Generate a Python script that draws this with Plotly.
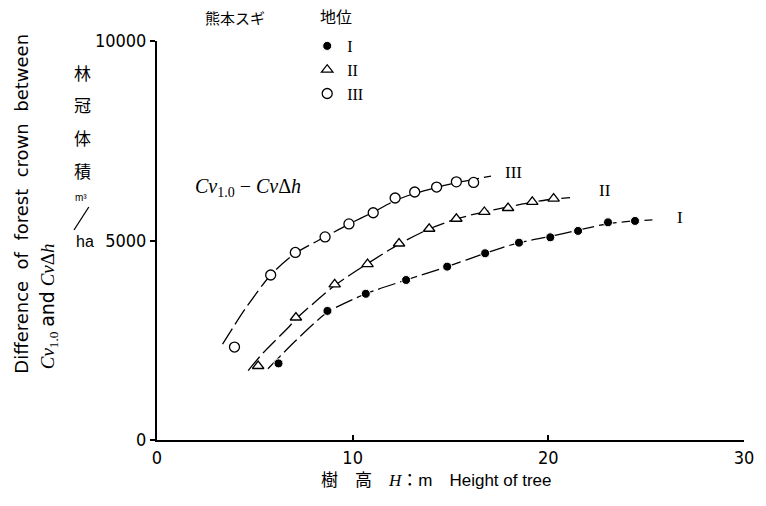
import plotly.graph_objects as go

# ---------------- data ----------------
# site class I (filled circles)
h_I = [6.21, 8.71, 10.67, 12.73, 14.83, 16.77, 18.50, 20.10, 21.52, 23.05, 24.43]
v_I = [1920, 3235, 3665, 4010, 4345, 4680, 4945, 5080, 5240, 5455, 5490]
# site class II (open triangles)
h_II = [5.17, 7.10, 9.08, 10.76, 12.37, 13.91, 15.30, 16.73, 17.94, 19.18, 20.27]
v_II = [1855, 3070, 3900, 4410, 4925, 5295, 5545, 5715, 5815, 5970, 6050]
# site class III (open circles)
h_III = [3.96, 5.81, 7.07, 8.59, 9.81, 11.05, 12.17, 13.17, 14.29, 15.30, 16.18]
v_III = [2330, 4135, 4700, 5090, 5415, 5695, 6065, 6215, 6340, 6470, 6455]

# fitted curves as drawn in the reference
ch_I = [5.67, 7.07, 8.71, 10.67, 12.73, 14.83, 16.77, 18.50, 20.10, 21.52, 23.05, 24.43, 25.32]
cv_I = [1785, 2480, 3200, 3665, 4010, 4345, 4680, 4945, 5100, 5260, 5420, 5490, 5515]
ch_II = [4.66, 5.37, 6.75, 7.10, 9.08, 10.76, 12.37, 13.91, 15.30, 16.73, 17.94, 19.18, 20.27, 21.11]
cv_II = [1740, 2155, 2840, 3030, 3870, 4420, 4910, 5290, 5540, 5720, 5840, 5960, 6040, 6075]
ch_III = [3.35, 4.5, 5.81, 7.07, 8.59, 9.81, 11.05, 12.17, 13.17, 14.29, 15.30, 16.18, 17.07]
cv_III = [2405, 3280, 4135, 4680, 5090, 5410, 5710, 6000, 6180, 6330, 6450, 6530, 6615]

class_names = ["I", "II", "III"]
x_ticks = [0, 10, 20, 30]
y_ticks = [0, 5000, 10000]

# ---------------- layout geometry ----------------
W, H = 766, 506
L, R, T, B = 157, 15, 41, 66
PW, PH = W - L - R, H - T - B


def px(x):
    return (x - L) / PW


def py(y):
    return (H - B - y) / PH


NARROW = "DejaVu Sans Condensed, Liberation Sans Narrow, Liberation Sans, sans-serif"
SANS = "Liberation Sans, Arial, sans-serif"
SERIF = "Liberation Serif, DejaVu Serif, serif"
JP = "Noto Sans CJK JP, Noto Sans CJK SC, sans-serif"

fig = go.Figure()

line_style = dict(color="black", width=1.3, dash="18px,5px", shape="spline", smoothing=0.7)
for cx, cy in [(ch_I, cv_I), (ch_II, cv_II), (ch_III, cv_III)]:
    fig.add_trace(go.Scatter(x=cx, y=cy, mode="lines", line=line_style,
                             showlegend=False, hoverinfo="skip"))

fig.add_trace(go.Scatter(x=h_I, y=v_I, mode="markers", name=class_names[0],
                         marker=dict(symbol="circle", size=9, color="black",
                                     line=dict(color="white", width=1))))
fig.add_trace(go.Scatter(x=h_II, y=v_II, mode="markers", name=class_names[1],
                         marker=dict(symbol="triangle-up", size=10, color="white",
                                     line=dict(color="black", width=1.3))))
fig.add_trace(go.Scatter(x=h_III, y=v_III, mode="markers", name=class_names[2],
                         marker=dict(symbol="circle", size=10, color="white",
                                     line=dict(color="black", width=1.3))))

ann = []
# top labels
ann.append(dict(text="熊本スギ", x=px(236), y=py(17), font=dict(family=JP, size=15)))
ann.append(dict(text="地位", x=px(338), y=py(16), font=dict(family=JP, size=16)))
# curve labels
ann.append(dict(text="III", x=px(518), y=py(172), font=dict(family=SERIF, size=17)))
ann.append(dict(text="II", x=px(610), y=py(190), font=dict(family=SERIF, size=17)))
ann.append(dict(text="I", x=px(686), y=py(217), font=dict(family=SERIF, size=17)))
# formula
ann.append(dict(text="<i>Cv</i><sub>1.0</sub> − <i>Cv</i>Δ<i>h</i>", x=px(249), y=py(187),
                font=dict(family=SERIF, size=20)))
# y-axis Japanese label
for ch, yy in [("林", 72), ("冠", 104), ("体", 137), ("積", 170)]:
    ann.append(dict(text=ch, x=px(82), y=py(yy), font=dict(family=JP, size=17)))
ann.append(dict(text="m³", x=px(80), y=py(197), font=dict(family=SANS, size=10)))
ann.append(dict(text="ha", x=px(84), y=py(241), font=dict(family=SANS, size=16)))
# y-axis English label (rotated)
ann.append(dict(text="Difference\u00a0 of\u00a0 forest\u00a0 crown\u00a0 between", x=px(19), y=py(204),
                textangle=-90, font=dict(family="DejaVu Sans, sans-serif", size=18)))
ann.append(dict(text="<i>Cv</i><sub>1.0</sub> <span style='font-family:DejaVu Sans'>and</span> <i>Cv</i>Δ<i>h</i>",
                x=px(47), y=py(306), textangle=-90, font=dict(family=SERIF, size=19)))
# x-axis title
ann.append(dict(text="樹　高　<i><span style='font-family:Liberation Serif'>H</span></i>："
                     "<span style='font-family:Liberation Sans'>m　Height of tree</span>",
                x=px(440), y=py(478), font=dict(family=JP, size=17)))

for a in ann:
    a.update(xref="paper", yref="paper", showarrow=False, xanchor="center", yanchor="middle")

fig.update_layout(
    width=W, height=H,
    margin=dict(l=L, r=R, t=T, b=B),
    paper_bgcolor="white", plot_bgcolor="white",
    annotations=ann,
    shapes=[dict(type="line", xref="paper", yref="paper",
                 x0=px(73), y0=py(230), x1=px(88), y1=py(207),
                 line=dict(color="black", width=1.3))],
    showlegend=True,
    legend=dict(x=px(309), y=py(29), xanchor="left", yanchor="top",
                bgcolor="rgba(0,0,0,0)", itemwidth=30, tracegroupgap=0,
                font=dict(family=SERIF, size=16, color="black")),
    xaxis=dict(range=[0, 30], tickvals=x_ticks, ticktext=[str(t) for t in x_ticks],
               showline=True, linecolor="black", linewidth=2, mirror=False,
               ticks="inside", ticklen=5, tickwidth=1.5, tickcolor="black",
               showgrid=False, zeroline=False,
               tickfont=dict(family=NARROW, size=18, color="black")),
    yaxis=dict(range=[0, 10000], tickvals=y_ticks, ticktext=[str(t) for t in y_ticks],
               showline=True, linecolor="black", linewidth=2,
               ticks="outside", ticklen=5, tickwidth=1.5, tickcolor="black",
               showgrid=False, zeroline=False,
               tickfont=dict(family=NARROW, size=18, color="black")),
    font=dict(color="black"),
)

fig.write_html("out.html")
